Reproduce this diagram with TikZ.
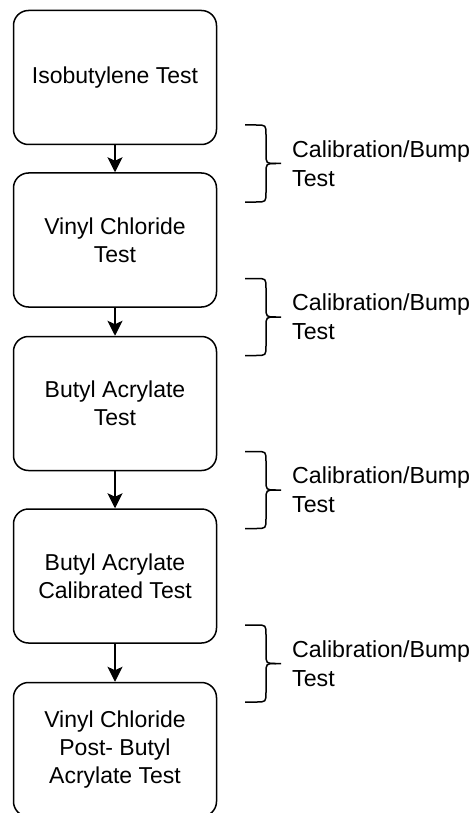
\documentclass[tikz,border=0pt]{standalone}
\usepackage{fontspec}
\setmainfont{Liberation Sans}
\usetikzlibrary{arrows.meta}
\tikzset{
  stepbox/.style={draw=black, line width=1.5pt, rounded corners=15pt, minimum width=203pt, minimum height=134pt, align=center, inner sep=0pt, font=\fontsize{23}{28.3}\selectfont},
  arr/.style={draw=black, line width=1.5pt, -{Stealth[length=15pt,width=15pt,inset=3.5pt]}},
  lbl/.style={anchor=west, align=left, inner sep=0pt, font=\fontsize{23.2}{29}\selectfont},
  cbrace/.pic={
    \draw[line width=1.5pt] (-36,-38.5) -- (-25,-38.5) .. controls (-15,-38.5) .. (-15,-28.5) -- (-15,-10) .. controls (-15,0) .. (-5,0) -- (0,0);
    \draw[line width=1.5pt] (-5,0) .. controls (-15,0) .. (-15,10) -- (-15,28.5) .. controls (-15,38.5) .. (-25,38.5) -- (-36,38.5);
  }
}
\begin{document}
\begin{tikzpicture}[x=1pt, y=-1pt]
\useasboundingbox (0,0) rectangle (470,813);
\begin{scope}
\clip (0,0) rectangle (470,813);
\node[stepbox] (b1) at (115,77.5) {Isobutylene Test};
\node[stepbox] (b2) at (115,240) {Vinyl Chloride\\Test};
\node[stepbox] (b3) at (115,403.5) {Butyl Acrylate\\Test};
\node[stepbox] (b4) at (115,576) {Butyl Acrylate\\Calibrated Test};
\node[stepbox] (b5) at (115,749.5) {Vinyl Chloride\\Post- Butyl\\Acrylate Test};
\end{scope}
\draw[arr] (b1) -- (b2);
\draw[arr] (b2) -- (b3);
\draw[arr] (b3) -- (b4);
\draw[arr] (b4) -- (b5);
\pic at (281,163.5) {cbrace};
\pic at (281,317) {cbrace};
\pic at (281,490) {cbrace};
\pic at (281,663.5) {cbrace};
\node[lbl] (t1) at (292,163.5) {Calibration/Bump\\Test};
\node[lbl] (t2) at (292,317) {Calibration/Bump\\Test};
\node[lbl] (t3) at (292,490) {Calibration/Bump\\Test};
\node[lbl] (t4) at (292,663.5) {Calibration/Bump\\Test};
\end{tikzpicture}
\end{document}
